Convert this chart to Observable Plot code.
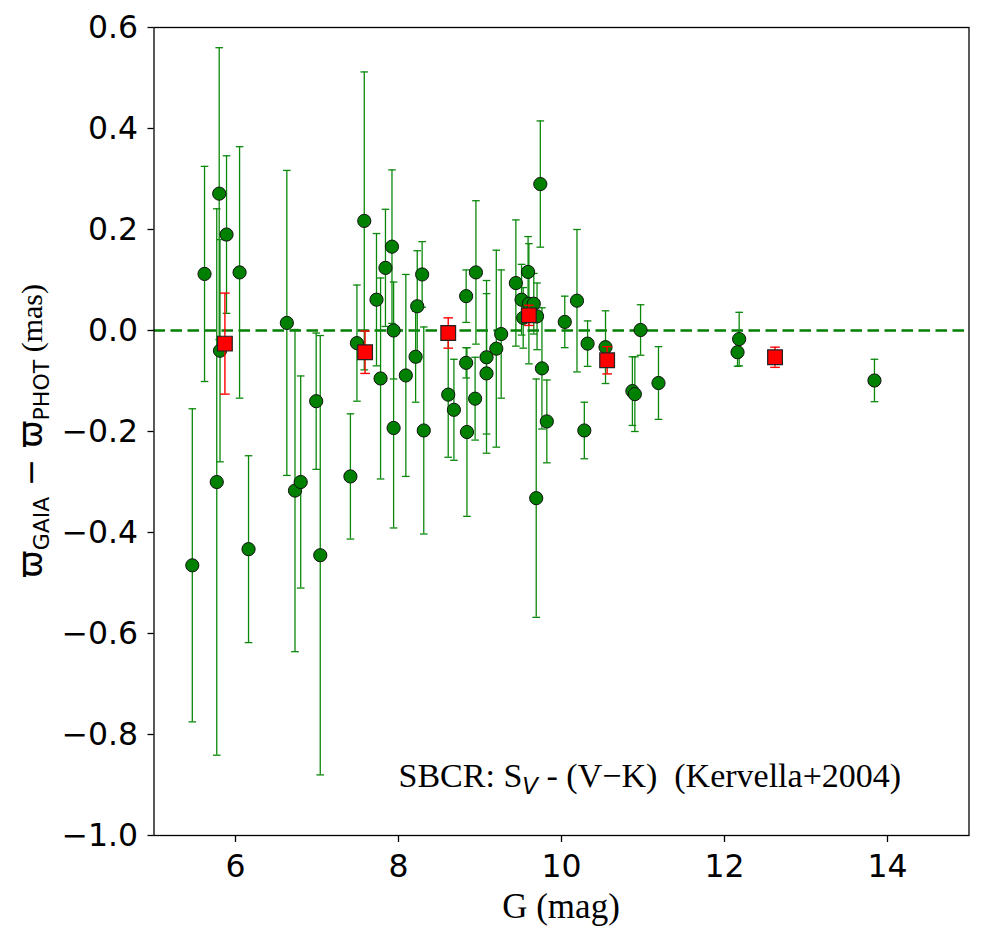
<!DOCTYPE html>
<html>
<head>
<meta charset="utf-8">
<script src="https://cdn.jsdelivr.net/npm/d3@7"></script>
<script src="https://cdn.jsdelivr.net/npm/@observablehq/plot@0.6"></script>
<style>
  html, body { margin: 0; padding: 0; background: #fff; }
  #chart svg { display: block; }
</style>
</head>
<body>
<div id="chart"></div>
<script>
// Individual stars: Gaia G magnitude, parallax difference (mas) and its 1-sigma error
const starG = [5.47, 5.62, 5.77, 5.80, 5.81, 5.89, 6.05, 6.16, 6.63, 6.73, 6.80, 6.99, 7.04, 7.41, 7.49,
  7.58, 7.73, 7.78, 7.84, 7.92, 7.94, 7.94, 8.09, 8.21, 8.23, 8.29, 8.31, 8.61, 8.68, 8.83, 8.83, 8.84,
  8.95, 8.94, 9.08, 9.08, 9.20, 9.26, 9.44, 9.51, 9.53, 9.59, 9.60, 9.66, 9.70, 9.74, 9.69, 9.76, 9.82,
  10.04, 10.19, 10.32, 10.28, 10.54, 10.87, 10.90, 10.97, 11.19, 12.16, 12.18, 13.84];
const starDiff = [-0.465, 0.112, -0.300, 0.271, -0.040, 0.190, 0.115, -0.433, 0.015, -0.317, -0.300, -0.140,
  -0.445, -0.289, -0.025, 0.217, 0.061, -0.095, 0.124, 0.166, 0.000, -0.193, -0.089, -0.052, 0.048, 0.111,
  -0.198, -0.127, -0.157, 0.068, -0.064, -0.201, 0.115, -0.135, -0.053, -0.085, -0.036, -0.007, 0.094,
  0.061, 0.025, 0.116, 0.053, 0.053, 0.028, 0.290, -0.332, -0.075, -0.180, 0.017, 0.059, -0.026, -0.198,
  -0.033, -0.120, -0.126, 0.001, -0.104, -0.043, -0.017, -0.099];
const starErr = [0.310, 0.213, 0.541, 0.289, 0.220, 0.156, 0.249, 0.185, 0.302, 0.319, 0.210, 0.135,
  0.435, 0.124, 0.115, 0.295, 0.131, 0.199, 0.116, 0.152, 0.096, 0.198, 0.200, 0.090, 0.110, 0.065,
  0.205, 0.124, 0.100, 0.052, 0.030, 0.167, 0.142, 0.082, 0.152, 0.158, 0.195, 0.127, 0.125,
  0.070, 0.060, 0.070, 0.119, 0.060, 0.066, 0.125, 0.236, 0.120, 0.082, 0.051, 0.141, 0.045, 0.056,
  0.072, 0.068, 0.074, 0.050, 0.072, 0.028, 0.053, 0.042];

// Binned means (red squares)
const binG = [5.87, 7.59, 8.61, 9.60, 10.56, 12.62];
const binDiff = [-0.026, -0.043, -0.005, 0.030, -0.059, -0.053];
const binErr = [0.100, 0.042, 0.030, 0.020, 0.027, 0.020];

// Axis ticks and labels
const xTicks = [6, 8, 10, 12, 14];
const yTicks = [-1.0, -0.8, -0.6, -0.4, -0.2, 0.0, 0.2, 0.4, 0.6];
const xLabel = "G (mag)";
const noteText = ["SBCR: S", "V", " - (V\u2212K)  (Kervella+2004)"];

const stars = starG.map((g, i) => ({g, d: starDiff[i], e: starErr[i]}));
const bins = binG.map((g, i) => ({g, d: binDiff[i], e: binErr[i]}));

// Horizontal cap for error bars, drawn as a symbol so its width stays in pixels
const capSymbol = (half) => ({
  draw(context) { context.moveTo(-half, 0); context.lineTo(half, 0); }
});

const green = "#0b880b";
const fmt = d3.format(".1f");

const chart = Plot.plot({
  width: 990,
  height: 940,
  marginLeft: 153.5,
  marginRight: 21.5,
  marginTop: 27,
  marginBottom: 105,
  style: {fontFamily: "DejaVu Sans", fontSize: "31.5px", color: "#000", background: "#fff", overflow: "visible"},
  x: {domain: [5, 15]},
  y: {domain: [-1.0, 0.6]},
  marks: [
    Plot.ruleY([0], {stroke: "green", strokeWidth: 2.6, strokeDasharray: "11.5,5.5"}),
    // star error bars
    Plot.ruleX(stars, {x: "g", y1: d => d.d - d.e, y2: d => d.d + d.e, stroke: green, strokeWidth: 1.3}),
    Plot.dot(stars, {x: "g", y: d => d.d - d.e, symbol: capSymbol(3.8), stroke: green, strokeWidth: 1.3, fill: "none", r: 4}),
    Plot.dot(stars, {x: "g", y: d => d.d + d.e, symbol: capSymbol(3.8), stroke: green, strokeWidth: 1.3, fill: "none", r: 4}),
    Plot.dot(stars, {x: "g", y: "d", r: 6.6, fill: "#008000", stroke: "#111", strokeWidth: 1}),
    // binned error bars and squares
    Plot.ruleX(bins, {x: "g", y1: d => d.d - d.e, y2: d => d.d + d.e, stroke: "red", strokeWidth: 1.4}),
    Plot.dot(bins, {x: "g", y: d => d.d - d.e, symbol: capSymbol(4.8), stroke: "red", strokeWidth: 1.4, fill: "none", r: 5}),
    Plot.dot(bins, {x: "g", y: d => d.d + d.e, symbol: capSymbol(4.8), stroke: "red", strokeWidth: 1.4, fill: "none", r: 5}),
    Plot.dot(bins, {x: "g", y: "d", symbol: "square", r: 8.3, fill: "red", stroke: "#222", strokeWidth: 1.2}),
    Plot.frame({stroke: "#000", strokeWidth: 1.3}),
    Plot.axisX({ticks: xTicks, tickSize: 7, tickPadding: 12, tickFormat: d => String(d), label: null, stroke: "#000", strokeWidth: 1.3}),
    Plot.axisY({ticks: yTicks, tickSize: 6, tickPadding: 10, tickFormat: d => fmt(d), label: null, stroke: "#000", strokeWidth: 1.3})
  ]
});

document.getElementById("chart").appendChild(chart);

const svg = d3.select(chart);
const serif = "'Liberation Serif', 'Times New Roman', serif";

// x-axis title
svg.append("text")
  .attr("x", 561).attr("y", 918)
  .attr("text-anchor", "middle")
  .style("font-family", serif)
  .style("font-size", "35px")
  .text(xLabel);

// y-axis title: parallax difference with mathtext-like subscripts
const yl = svg.append("text")
  .attr("transform", "translate(42,431) rotate(-90)")
  .attr("text-anchor", "middle")
  .style("font-family", "DejaVu Sans")
  .style("font-size", "33px");
yl.append("tspan").text("\u03D6");
yl.append("tspan").attr("dy", 7).style("font-size", "22px").text("GAIA");
yl.append("tspan").attr("dy", -7).text(" \u2212 ");
yl.append("tspan").text("\u03D6");
yl.append("tspan").attr("dy", 7).style("font-size", "22px").text("PHOT");
yl.append("tspan").attr("dy", -7)
  .style("font-family", serif)
  .style("font-size", "30px").text(" (mas)");

// in-panel note
const note = svg.append("text")
  .attr("x", 398.5).attr("y", 787)
  .attr("text-anchor", "start")
  .style("white-space", "pre")
  .style("font-family", serif)
  .style("font-size", "34px");
note.append("tspan").text(noteText[0]);
note.append("tspan").attr("dy", 7)
  .style("font-family", "DejaVu Sans").style("font-style", "oblique").style("font-size", "23px")
  .text(noteText[1]);
note.append("tspan").attr("dy", -7).text(noteText[2]);
</script>
</body>
</html>
